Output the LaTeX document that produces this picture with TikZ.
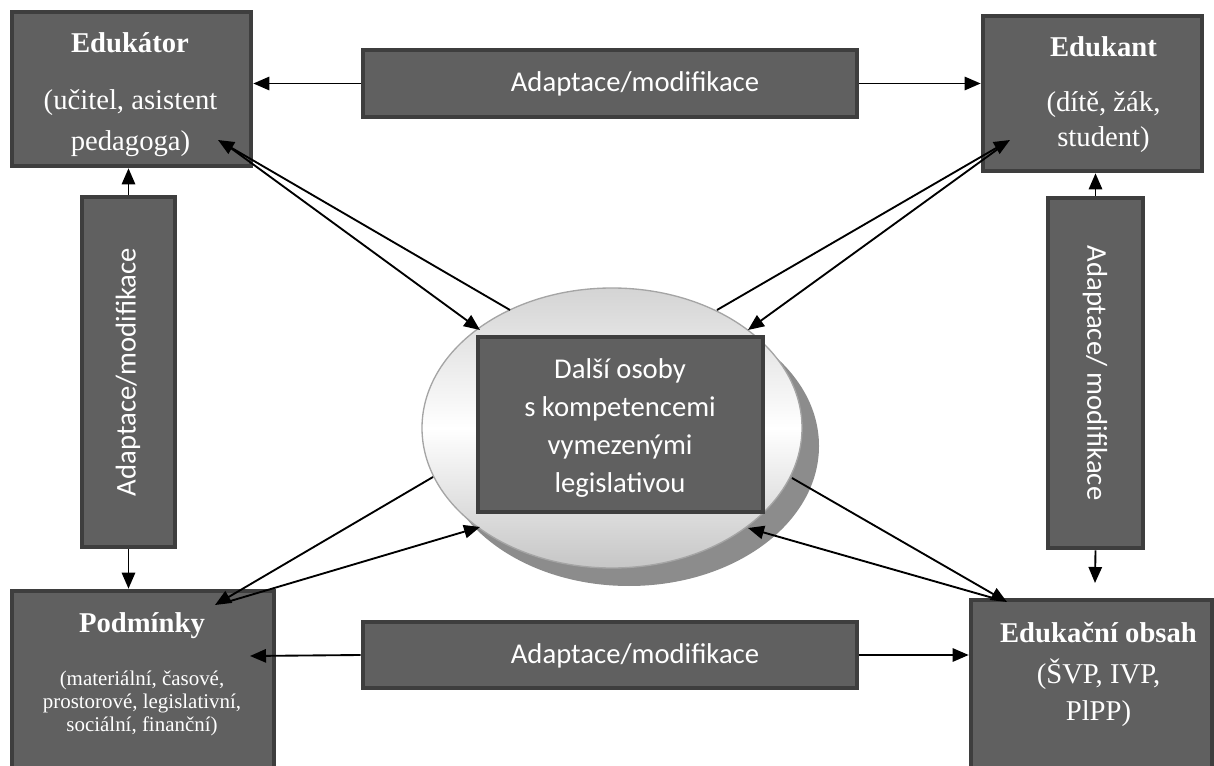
\documentclass[tikz,border=0pt]{standalone}
\usepackage{fontspec}
\setmainfont{Liberation Serif}
\newfontfamily\calib{Carlito}
\usetikzlibrary{arrows.meta,shapes.geometric,fit}
\definecolor{boxfill}{RGB}{96,96,96}
\definecolor{boxdraw}{RGB}{62,62,62}
\definecolor{shadowc}{RGB}{140,140,140}
\definecolor{ellline}{RGB}{165,165,165}
\definecolor{elltop}{RGB}{212,212,212}
\definecolor{ellbot}{RGB}{198,198,198}
\begin{document}
\begin{tikzpicture}[x=0.75pt,y=-0.75pt,
  box/.style={draw=boxdraw, line width=3.5pt, fill=boxfill, inner sep=0pt},
  ttl/.style={font=\bfseries\fontsize{21.5}{26}\selectfont, text=white, inner sep=0pt},
  sub/.style={font=\fontsize{21.5}{#1}\selectfont, text=white, align=center, inner sep=0pt},
  adapt/.style={font=\calib\fontsize{21.5}{26}\selectfont, text=white, inner sep=0pt},
  arr/.style={line width=1.4pt, -{Triangle[length=12pt,width=10pt]}},
  ln/.style={line width=1.4pt}]
\useasboundingbox (0,0) rectangle (1214,766);

% boxes
\node[box, fit={(12,12)(251,166)}] (edu) {};
\node[box, fit={(983,16)(1202,171)}] (ekt) {};
\node[box, fit={(12,591)(274,772)}] (pod) {};
\node[box, fit={(971,600)(1212,772)}] (obs) {};
\node[box, fit={(363,50)(857,117)}] (topA) {};
\node[box, fit={(363,622)(857,688)}] (botA) {};
\node[box, fit={(82,197)(175,547)}] (leftA) {};
\node[box, fit={(1048,198)(1143,548)}] (rightA) {};

% texts (multi-line nodes: base = baseline of last line)
\node[ttl, anchor=base] (eduT) at (130,53) {Edukátor};
\node[sub=30.75pt, anchor=base] (eduS) at (130.5,151) {(učitel, asistent\\pedagoga)};
\node[ttl, anchor=base] (ektT) at (1103.5,57) {Edukant};
\node[sub=26.25pt, anchor=base] (ektS) at (1103.5,147) {(dítě, žák,\\student)};
\node[ttl, anchor=base] (podT) at (142,632) {Podmínky};
\node[sub=17.25pt, anchor=base, font=\fontsize{15.7}{17.25}\selectfont] (podS) at (142,731) {(materiální, časové,\\prostorové, legislativní,\\sociální, finanční)};
\node[ttl, anchor=base] (obsT) at (1098.5,642) {Edukační obsah};
\node[sub=27.75pt, anchor=base] (obsS) at (1098.5,720) {(ŠVP, IVP,\\PlPP)};

\node[adapt] (topT) at (635,84) {Adaptace/modifikace};
\node[adapt] (botT) at (635,656) {Adaptace/modifikace};
\node[adapt, rotate=90] (leftT) at (128,372) {Adaptace/modifikace};
\node[adapt, rotate=-90] (rightT) at (1095,373) {Adaptace/ modifikace};

% central ellipse
\node[ellipse, fill=shadowc, minimum width=285pt, minimum height=210pt, inner sep=0pt] (ellS) at (629,446) {};
\node[ellipse, draw=ellline, line width=1pt, top color=elltop, bottom color=ellbot, middle color=white, minimum width=285pt, minimum height=210pt, inner sep=0pt] (ell) at (612,428) {};
\node[box, fit={(478,337)(763,512)}] (oth) {};
\node[sub=28.5pt, font=\calib\fontsize{21.5}{28.5}\selectfont] (othT) at (620,428) {Další osoby\\s kompetencemi\\vymezenými\\legislativou};

% straight arrows
\draw[arr] (topA.west) -- (topA.west -| edu.east);
\draw[arr] (topA.east) -- (topA.east -| ekt.west);
\draw[arr] (leftA.north) -- (leftA.north |- edu.south);
\draw[arr] (leftA.south) -- (leftA.south |- pod.north);
\draw[arr] (rightA.north) -- (rightA.north |- ekt.south);
\coordinate (rAend) at (1095,583);
\draw[arr] (rightA.south) -- (rAend);
\coordinate (podIn) at (250,656);
\draw[arr] (botA.west) -- (podIn);
\draw[arr] (botA.east) -- (botA.east -| obs.west);

% diagonal arrows
\coordinate (eduP) at (218,140);
\coordinate (eduQ) at (228,146);
\coordinate (ellA) at (510,310);
\coordinate (ellB) at (480,330);
\draw[arr] (ellA) -- (eduP);
\draw[arr] (eduQ) -- (ellB);

\coordinate (ektP) at (1010,140);
\coordinate (ektQ) at (1002,146);
\coordinate (ellC) at (717,310);
\coordinate (ellD) at (748,330);
\draw[arr] (ellC) -- (ektP);
\draw[arr] (ektQ) -- (ellD);

\coordinate (podP) at (215,605);
\coordinate (podQ) at (227,602);
\coordinate (ellE) at (433,477);
\coordinate (ellF) at (480,527);
\draw[arr] (ellE) -- (podP);
\draw[arr] (podQ) -- (ellF);

\coordinate (obsP) at (1007,602);
\coordinate (obsQ) at (1000,600);
\coordinate (ellG) at (792,478);
\coordinate (ellH) at (748,528);
\draw[arr] (ellG) -- (obsP);
\draw[arr] (obsQ) -- (ellH);
\end{tikzpicture}
\end{document}
